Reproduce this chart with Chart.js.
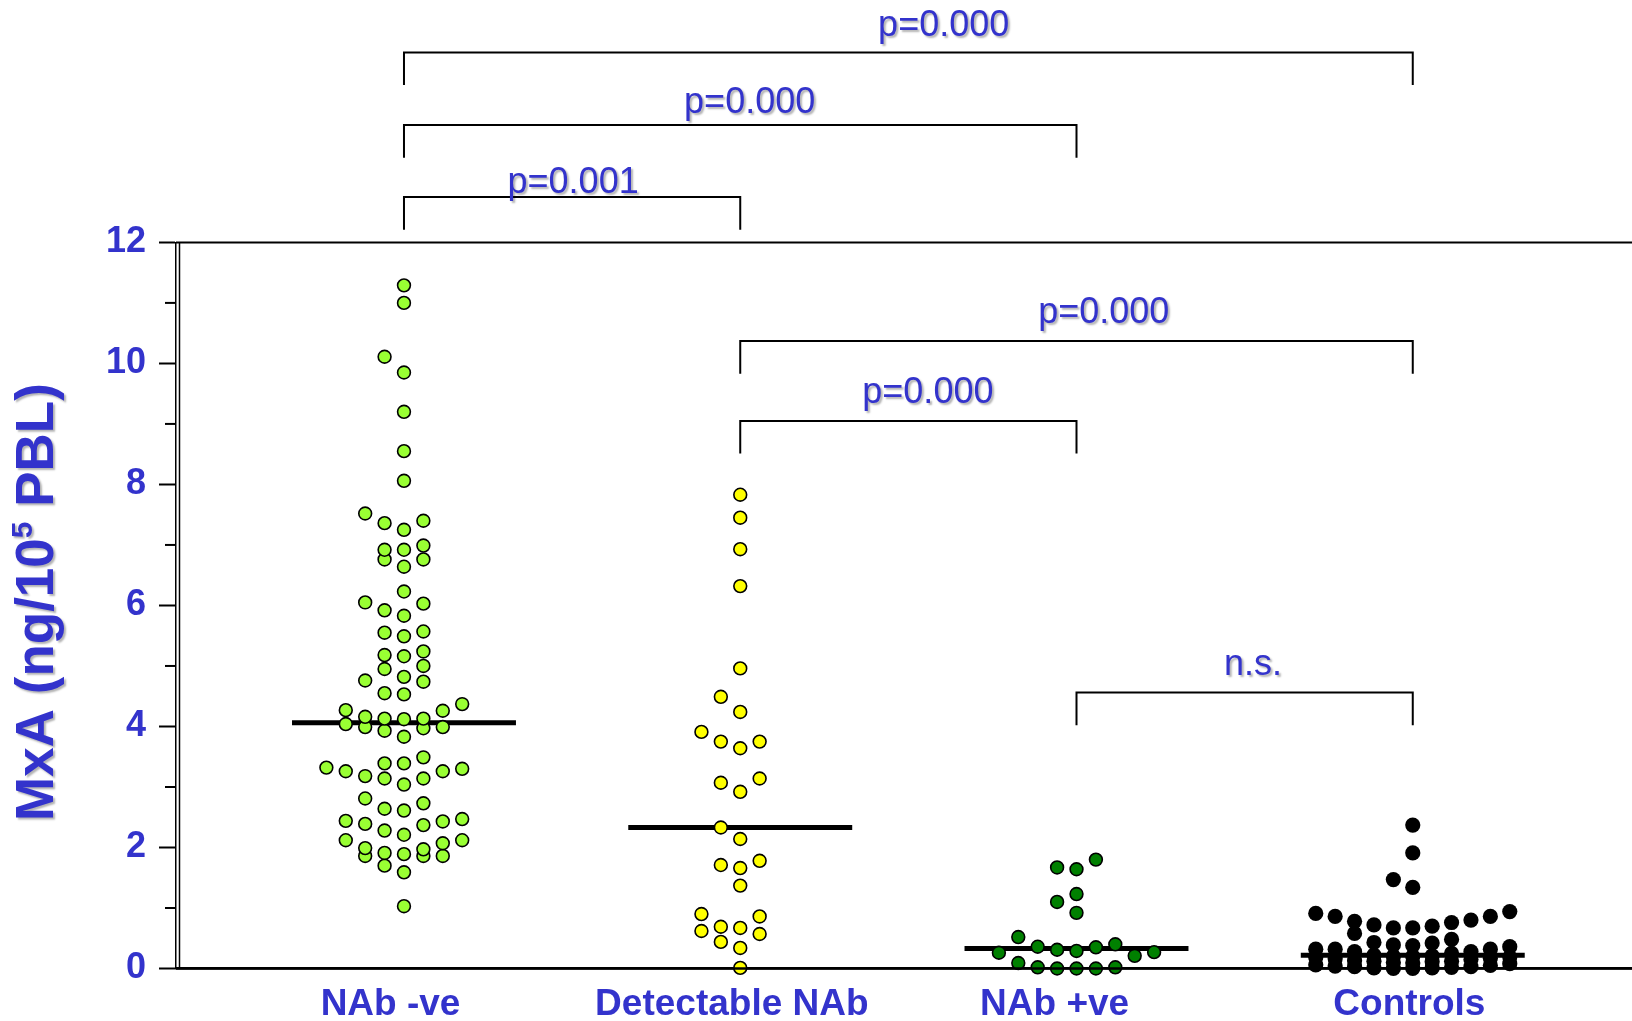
<!DOCTYPE html>
<html>
<head>
<meta charset="utf-8">
<script src="https://cdn.jsdelivr.net/npm/chart.js@4.4.1/dist/chart.umd.min.js"></script>
<style>
  html, body { margin: 0; padding: 0; background: #fff; overflow: hidden; }
  #wrap { width: 1632px; height: 1021px; }
</style>
</head>
<body>
<div id="wrap"><canvas id="mxaChart"></canvas></div>
<script>
// Groupes (axe X)
const groups = ['NAb -ve', 'Detectable NAb', 'NAb +ve', 'Controls'];

// Valeurs MxA (ng/10^5 PBL)
const nabNegative = [
  11.29, 11.00, 10.11, 9.85, 9.20, 8.55, 8.06, 7.40, 7.36, 7.52, 7.25, 6.92, 6.99, 6.92,
  6.76, 6.76, 6.64, 6.23, 6.05, 5.92, 6.03, 5.83, 5.57, 5.49, 5.55, 5.18, 5.16, 5.24,
  5.00, 4.95, 4.82, 4.74, 4.76, 4.55, 4.53, 4.37, 4.26, 4.27, 4.13, 4.12, 4.13, 4.16,
  4.04, 3.99, 3.93, 3.97, 3.99, 3.83, 3.49, 3.39, 3.39, 3.32, 3.26, 3.30, 3.26, 3.18,
  3.14, 3.14, 3.04, 2.73, 2.81, 2.64, 2.61, 2.44, 2.39, 2.47, 2.43, 2.37, 2.28, 2.21,
  2.12, 2.12, 2.07, 1.99, 1.97, 1.89, 1.91, 1.86, 1.86, 1.86, 1.70, 1.59, 1.03
];
const detectableNab = [
  7.83, 7.45, 6.93, 6.32, 4.96, 4.49, 4.24, 3.91, 3.75, 3.75, 3.64, 3.14, 3.07, 2.92,
  2.33, 2.14, 1.78, 1.71, 1.66, 1.37, 0.90, 0.86, 0.69, 0.67, 0.62, 0.57, 0.44, 0.34, 0.01
];
const nabPositive = [
  1.80, 1.67, 1.64, 1.23, 1.10, 0.92, 0.52, 0.40, 0.36, 0.35, 0.31, 0.29, 0.27, 0.26,
  0.21, 0.09, 0.02, 0.02, 0.00, 0.00, 0.00
];
const controls = [
  2.37, 1.91, 1.47, 1.34, 0.94, 0.91, 0.86, 0.86, 0.80, 0.78, 0.76, 0.72, 0.70, 0.67,
  0.67, 0.58, 0.48, 0.43, 0.42, 0.39, 0.38, 0.36, 0.32, 0.32, 0.32, 0.28, 0.28, 0.25,
  0.22, 0.21, 0.20, 0.20, 0.19, 0.18, 0.17, 0.16, 0.15, 0.13, 0.12, 0.12, 0.11, 0.10,
  0.09, 0.08, 0.06, 0.05, 0.04, 0.03, 0.03, 0.02, 0.01, 0.01, 0.00, 0.00
];

// Médianes (traits horizontaux)
const medians = [4.06, 2.33, 0.33, 0.22];

// Graduations de l'axe Y
const yTicks = [0, 2, 4, 6, 8, 10, 12];

// Comparaisons : [groupe de départ, groupe d'arrivée, hauteur du trait, texte, x du texte, ligne de base du texte]
const brackets = [
  [1, 2, 12.75, 'p=0.001', 1.503, 12.81],
  [1, 3, 13.94, 'p=0.000', 2.028, 14.14],
  [1, 4, 15.14, 'p=0.000', 2.605, 15.41],
  [2, 4, 10.37, 'p=0.000', 3.081, 10.66],
  [2, 3, 9.05, 'p=0.000', 2.558, 9.34],
  [3, 4, 4.56, 'n.s.', 3.525, 4.85]
];

const blue = '#3333cc';
const font = '"Liberation Sans", Arial, sans-serif';
const LANE = 0.0577;  // écart horizontal entre deux colonnes de points
const labelNudge = [-0.04, -0.025, -0.065, -0.01];  // les libellés sont un peu à gauche des colonnes

// Disposition en essaim : on regroupe les valeurs proches en rangées
function swarm(values, center, rowSpan, maxRow) {
  const sorted = [...values].sort((a, b) => a - b);
  const points = [];
  let row = [];
  const flush = () => {
    row.forEach((v, k) => {
      const lane = k === 0 ? 0 : (k % 2 ? -(k + 1) / 2 : k / 2);
      points.push({ x: center + lane * LANE, y: v });
    });
    row = [];
  };
  sorted.forEach(v => {
    if (row.length && (v - row[0] >= rowSpan || row.length >= maxRow)) flush();
    row.push(v);
  });
  flush();
  return points;
}

const series = [nabNegative, detectableNab, nabPositive, controls];
const fills = ['#99ff33', '#ffff00', '#008000', '#000000'];

const scatterSets = series.map((vals, i) => ({
  type: 'scatter',
  data: swarm(vals, i + 1, 0.28, 11),
  backgroundColor: fills[i],
  borderColor: '#000',
  borderWidth: i === 3 ? 0 : 1.6,
  pointRadius: i === 3 ? 7.6 : 6.4,
  clip: false,
  order: 1
}));

const medianSets = medians.map((m, i) => ({
  type: 'line',
  data: [{ x: i + 1 - 0.333, y: m }, { x: i + 1 + 0.333, y: m }],
  borderColor: '#000',
  borderWidth: 5,
  pointRadius: 0,
  clip: false,
  order: 2
}));

// Décor : cadre, double axe Y, graduations mineures, crochets et p-values
const decorations = {
  id: 'decorations',
  afterDatasetsDraw(chart) {
    const { ctx, chartArea, scales: { x, y } } = chart;
    ctx.save();
    ctx.strokeStyle = '#000';
    ctx.lineWidth = 2;
    ctx.beginPath();
    ctx.moveTo(chartArea.left, chartArea.top);
    ctx.lineTo(chart.width, chartArea.top);
    ctx.stroke();

    ctx.lineWidth = 2.5;
    ctx.beginPath();
    ctx.moveTo(chartArea.left, chartArea.bottom);
    ctx.lineTo(chart.width, chartArea.bottom);
    ctx.stroke();

    ctx.lineWidth = 1.5;
    ctx.beginPath();
    ctx.moveTo(chartArea.left + 3.5, chartArea.top);
    ctx.lineTo(chartArea.left + 3.5, chartArea.bottom);
    ctx.stroke();

    ctx.lineWidth = 2;
    for (let v = 1; v < 12; v += 2) {
      const py = y.getPixelForValue(v);
      ctx.beginPath();
      ctx.moveTo(chartArea.left - 11, py);
      ctx.lineTo(chartArea.left, py);
      ctx.stroke();
    }

    brackets.forEach(([from, to, h, label, tx, ty]) => {
      const x1 = x.getPixelForValue(from);
      const x2 = x.getPixelForValue(to);
      const yb = y.getPixelForValue(h);
      const yl = y.getPixelForValue(h - 0.54);
      ctx.lineWidth = 2;
      ctx.beginPath();
      ctx.moveTo(x1, yl);
      ctx.lineTo(x1, yb);
      ctx.lineTo(x2, yb);
      ctx.lineTo(x2, yl);
      ctx.stroke();

      ctx.save();
      ctx.font = '36px ' + font;
      ctx.fillStyle = blue;
      ctx.textAlign = 'center';
      ctx.textBaseline = 'alphabetic';
      ctx.shadowColor = 'rgba(0,0,0,0.3)';
      ctx.shadowOffsetX = 2;
      ctx.shadowOffsetY = 2;
      ctx.shadowBlur = 2;
      ctx.fillText(label, x.getPixelForValue(tx), y.getPixelForValue(ty));
      ctx.restore();
    });
    ctx.restore();
  },
  afterDraw(chart) {
    // Titre de l'axe Y avec exposant
    const ctx = chart.ctx;
    const part1 = 'MxA (ng/10', sup = '5', part2 = ' PBL)';
    ctx.save();
    ctx.fillStyle = blue;
    ctx.shadowColor = 'rgba(0,0,0,0.3)';
    ctx.shadowOffsetX = 2;
    ctx.shadowOffsetY = 2;
    ctx.shadowBlur = 2;
    ctx.font = 'bold 53px ' + font;
    const w1 = ctx.measureText(part1).width;
    const w2 = ctx.measureText(part2).width;
    ctx.font = 'bold 30px ' + font;
    const ws = ctx.measureText(sup).width;
    const total = w1 + ws + w2;
    ctx.translate(0, 602);
    ctx.rotate(-Math.PI / 2);
    ctx.textBaseline = 'alphabetic';
    ctx.textAlign = 'left';
    ctx.font = 'bold 53px ' + font;
    ctx.fillText(part1, -total / 2, 53);
    ctx.font = 'bold 30px ' + font;
    ctx.fillText(sup, -total / 2 + w1, 32);
    ctx.font = 'bold 53px ' + font;
    ctx.fillText(part2, -total / 2 + w1 + ws, 53);
    ctx.restore();
  }
};

const ctx = document.getElementById('mxaChart').getContext('2d');
const mxaChart = new Chart(ctx, {
  type: 'scatter',
  data: { datasets: [...scatterSets, ...medianSets] },
  options: {
    responsive: true,
    maintainAspectRatio: false,
    animation: false,
    layout: { autoPadding: false, padding: { top: 242.4, right: 0, bottom: 0, left: 0 } },
    plugins: {
      legend: { display: false },
      tooltip: { enabled: false }
    },
    scales: {
      x: {
        type: 'linear',
        min: 0.322,
        max: 4.652,
        afterBuildTicks: scale => {
          scale.ticks = groups.map((g, i) => ({ value: i + 1 + labelNudge[i] }));
        },
        afterFit: scale => {
          scale.height = 52.5;
          scale.paddingLeft = 0;
          scale.paddingRight = 0;
        },
        grid: { display: false, drawTicks: false },
        border: { display: true, color: '#000', width: 2.5 },
        ticks: {
          padding: 14,
          maxRotation: 0,
          autoSkip: false,
          color: blue,
          font: { family: font, size: 37, weight: 'bold' },
          callback: (v, idx) => groups[idx]
        }
      },
      y: {
        min: 0,
        max: 12,
        afterBuildTicks: scale => { scale.ticks = yTicks.map(v => ({ value: v })); },
        afterFit: scale => { scale.width = 176; },
        grid: { drawOnChartArea: false, drawTicks: true, tickLength: 17, tickWidth: 2, tickColor: '#000' },
        border: { display: true, color: '#000', width: 1.5 },
        ticks: {
          padding: 13,
          color: blue,
          font: { family: font, size: 36, weight: 'bold' }
        }
      }
    }
  },
  plugins: [decorations]
});
</script>
</body>
</html>
